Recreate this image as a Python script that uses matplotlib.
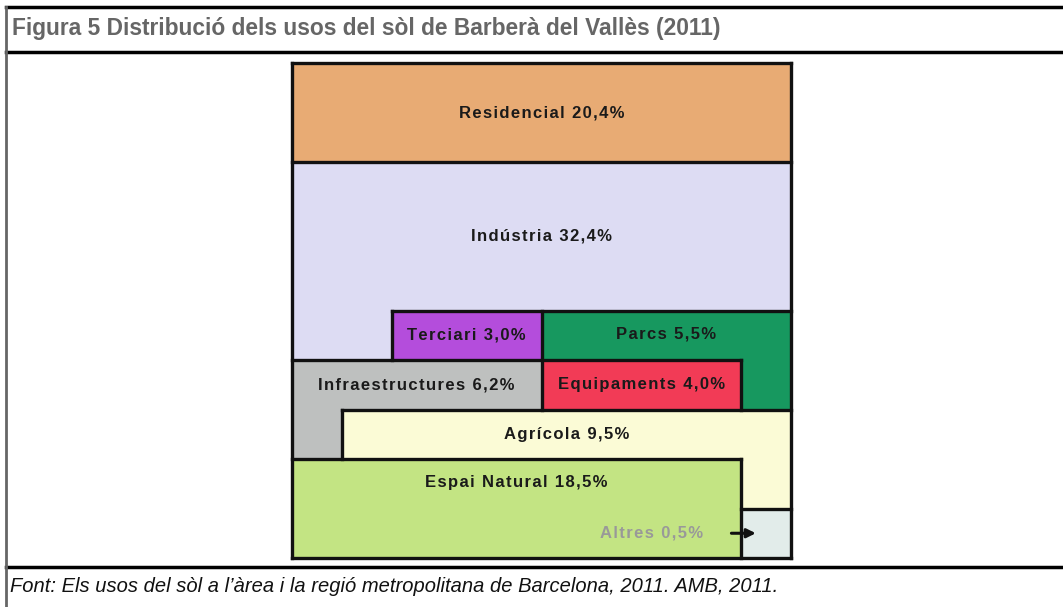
import numpy as np
import matplotlib
matplotlib.use("Agg")
import matplotlib.pyplot as plt
from matplotlib.patches import Rectangle
from matplotlib.collections import LineCollection
from matplotlib.lines import Line2D

# land use shares (label text) and cells in the 10x10 grid (1 cell = 1%)
categories = ["Residencial", "Indústria", "Terciari", "Parcs", "Equipaments",
              "Infraestructures", "Agrícola", "Espai Natural", "Altres"]
percent_labels = ["20,4%", "32,4%", "3,0%", "5,5%", "4,0%", "6,2%", "9,5%", "18,5%", "0,5%"]
cells = [20, 32, 3, 6, 4, 6, 10, 18, 1]

colors = ["#E8AB74", "#DDDCF3", "#B44DDC", "#17985F", "#F23B56",
          "#BEC0BF", "#FBFBD6", "#C3E483", "#E2ECEA"]

title = "Figura 5 Distribució dels usos del sòl de Barberà del Vallès (2011)"
source = "Font: Els usos del sòl a l\u2019àrea i la regió metropolitana de Barcelona, 2011. AMB, 2011."

W, H = 1063, 607
fig = plt.figure(figsize=(W / 100, H / 100), dpi=100)
fig.patch.set_facecolor("white")

# frame of the figure box
def hline(y, x0=6, x1=W, lw=2.5, c="black"):
    fig.add_artist(Line2D([x0 / W, x1 / W], [1 - y / H, 1 - y / H], lw=lw, color=c))

hline(7)
hline(52)
hline(567)
fig.add_artist(Line2D([6 / W, 6 / W], [0, 1 - 7 / H], lw=2, color="#666666"))

fig.text(12 / W, 1 - 29 / H, title, fontsize=16.4, fontweight="bold", color="#666666",
         family=["Liberation Sans Narrow", "Liberation Sans", "DejaVu Sans"],
         va="center", ha="left")
fig.text(10 / W, 1 - 587 / H, source, fontsize=14.5, style="italic", color="#111111",
         family=["Liberation Sans", "DejaVu Sans"], va="center", ha="left")

# snake-ordered 10x10 grid: row 0 right->left, row 1 left->right, ...
n = 10
grid = -np.ones((n, n), dtype=int)
order = []
for r in range(n):
    cols = range(n - 1, -1, -1) if r % 2 == 0 else range(n)
    for c in cols:
        order.append((r, c))
k = 0
for idx, cnt in enumerate(cells):
    for _ in range(cnt):
        r, c = order[k]
        grid[r, c] = idx
        k += 1

ax = fig.add_axes([292 / W, 1 - 558 / H, 499 / W, 495 / H])
ax.set_xlim(0, n)
ax.set_ylim(n, 0)
ax.axis("off")

for r in range(n):
    for c in range(n):
        ax.add_patch(Rectangle((c, r), 1, 1, facecolor=colors[grid[r, c]], edgecolor="none"))

# borders between different categories, unit edges first
horiz = set()
vert = set()
for r in range(n):
    for c in range(n):
        g = grid[r, c]
        if r == 0 or grid[r - 1, c] != g:
            horiz.add((r, c))
        if r == n - 1 or grid[r + 1, c] != g:
            horiz.add((r + 1, c))
        if c == 0 or grid[r, c - 1] != g:
            vert.add((c, r))
        if c == n - 1 or grid[r, c + 1] != g:
            vert.add((c + 1, r))


def merge(edges):
    # join touching unit edges on the same line into longer runs
    runs = []
    for line in sorted({e[0] for e in edges}):
        pos = sorted(e[1] for e in edges if e[0] == line)
        start = prev = pos[0]
        for p in pos[1:]:
            if p != prev + 1:
                runs.append((line, start, prev + 1))
                start = p
            prev = p
        runs.append((line, start, prev + 1))
    return runs


segs = [[(a, y), (b, y)] for y, a, b in merge(horiz)]
segs += [[(x, a), (x, b)] for x, a, b in merge(vert)]
ax.add_collection(LineCollection(segs, colors="#111111", linewidths=2.4,
                                 capstyle="projecting", clip_on=False))


def spaced(s):
    # the source uses a little letter spacing; hair spaces imitate it
    return "\u200a".join(s)


# label placement (grid units)
label_pos = {
    "Residencial": (5.0, 1.0),
    "Indústria": (5.0, 3.5),
    "Terciari": (3.5, 5.5),
    "Parcs": (7.5, 5.47),
    "Equipaments": (7.0, 6.5),
    "Infraestructures": (2.5, 6.5),
    "Agrícola": (5.5, 7.5),
    "Espai Natural": (4.5, 8.48),
    "Altres": (7.2, 9.5),
}
for cat, pct in zip(categories, percent_labels):
    x, y = label_pos[cat]
    col = "#999999" if cat == "Altres" else "#1a1a1a"
    ax.text(x, y, spaced(f"{cat} {pct}"), ha="center", va="center", fontsize=12,
            fontweight="bold", color=col, family=["Liberation Sans", "DejaVu Sans"])

ax.annotate("", xy=(9.35, 9.5), xytext=(8.75, 9.5),
            arrowprops=dict(arrowstyle="-|>", lw=2.2, color="#111111", mutation_scale=13))

fig.savefig("out.png", dpi=100)
